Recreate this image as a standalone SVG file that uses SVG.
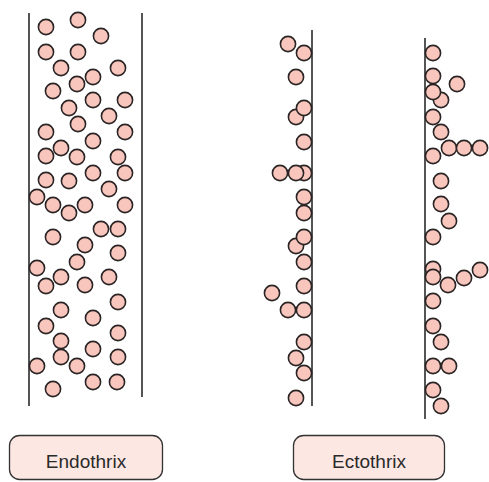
<svg xmlns="http://www.w3.org/2000/svg" width="489" height="482" viewBox="0 0 489 482">
<style>
.c{fill:#f8c6bd;stroke:#2b2424;stroke-width:1.6}
.hair{stroke:#2a2a2a;stroke-width:1.6;fill:none}
.box{fill:#fde7e3;stroke:#333;stroke-width:1.3}
.lbl{font-family:"Liberation Sans",Arial,sans-serif;font-size:19px;fill:#2a2a2a;text-anchor:middle}
</style>
<rect width="489" height="482" fill="#fff"/>
<g id="connectors">
<line class="hair" x1="29" y1="13" x2="29" y2="406"/>
<line class="hair" x1="142" y1="13" x2="142" y2="397"/>
<line class="hair" x1="312" y1="30" x2="312" y2="406"/>
<line class="hair" x1="425" y1="38" x2="425" y2="419" style="stroke:#555;stroke-width:2"/>
</g>
<g id="endothrix-spores">
<circle class="c" cx="78" cy="20" r="7.6"/>
<circle class="c" cx="46" cy="27" r="7.6"/>
<circle class="c" cx="101" cy="36" r="7.6"/>
<circle class="c" cx="46" cy="52" r="7.6"/>
<circle class="c" cx="78" cy="52" r="7.6"/>
<circle class="c" cx="61" cy="68" r="7.6"/>
<circle class="c" cx="118" cy="68" r="7.6"/>
<circle class="c" cx="93" cy="77" r="7.6"/>
<circle class="c" cx="77" cy="84" r="7.6"/>
<circle class="c" cx="53" cy="91" r="7.6"/>
<circle class="c" cx="93" cy="100" r="7.6"/>
<circle class="c" cx="125" cy="100" r="7.6"/>
<circle class="c" cx="69" cy="108" r="7.6"/>
<circle class="c" cx="109" cy="116" r="7.6"/>
<circle class="c" cx="78" cy="124" r="7.6"/>
<circle class="c" cx="46" cy="132" r="7.6"/>
<circle class="c" cx="125" cy="132" r="7.6"/>
<circle class="c" cx="93" cy="141" r="7.6"/>
<circle class="c" cx="61" cy="148" r="7.6"/>
<circle class="c" cx="46" cy="156" r="7.6"/>
<circle class="c" cx="77" cy="157" r="7.6"/>
<circle class="c" cx="118" cy="157" r="7.6"/>
<circle class="c" cx="93" cy="173" r="7.6"/>
<circle class="c" cx="125" cy="173" r="7.6"/>
<circle class="c" cx="46" cy="180" r="7.6"/>
<circle class="c" cx="69" cy="181" r="7.6"/>
<circle class="c" cx="109" cy="189" r="7.6"/>
<circle class="c" cx="37" cy="197" r="7.6"/>
<circle class="c" cx="53" cy="205" r="7.6"/>
<circle class="c" cx="85" cy="205" r="7.6"/>
<circle class="c" cx="125" cy="205" r="7.6"/>
<circle class="c" cx="69" cy="213" r="7.6"/>
<circle class="c" cx="101" cy="229" r="7.6"/>
<circle class="c" cx="118" cy="229" r="7.6"/>
<circle class="c" cx="53" cy="237" r="7.6"/>
<circle class="c" cx="85" cy="245" r="7.6"/>
<circle class="c" cx="118" cy="253" r="7.6"/>
<circle class="c" cx="77" cy="262" r="7.6"/>
<circle class="c" cx="37" cy="268" r="7.6"/>
<circle class="c" cx="61" cy="277" r="7.6"/>
<circle class="c" cx="109" cy="277" r="7.6"/>
<circle class="c" cx="46" cy="286" r="7.6"/>
<circle class="c" cx="85" cy="285" r="7.6"/>
<circle class="c" cx="118" cy="302" r="7.6"/>
<circle class="c" cx="61" cy="310" r="7.6"/>
<circle class="c" cx="93" cy="318" r="7.6"/>
<circle class="c" cx="46" cy="326" r="7.6"/>
<circle class="c" cx="118" cy="333" r="7.6"/>
<circle class="c" cx="61" cy="341" r="7.6"/>
<circle class="c" cx="93" cy="349" r="7.6"/>
<circle class="c" cx="61" cy="357" r="7.6"/>
<circle class="c" cx="118" cy="357" r="7.6"/>
<circle class="c" cx="37" cy="366" r="7.6"/>
<circle class="c" cx="77" cy="366" r="7.6"/>
<circle class="c" cx="93" cy="382" r="7.6"/>
<circle class="c" cx="117" cy="382" r="7.6"/>
<circle class="c" cx="53" cy="389" r="7.6"/>
</g>
<g id="ectothrix-left-spores">
<circle class="c" cx="288" cy="44" r="7.6"/>
<circle class="c" cx="304" cy="53" r="7.6"/>
<circle class="c" cx="296" cy="77" r="7.6"/>
<circle class="c" cx="296" cy="117" r="7.6"/>
<circle class="c" cx="304" cy="108" r="7.6"/>
<circle class="c" cx="304" cy="142" r="7.6"/>
<circle class="c" cx="280" cy="173" r="7.6"/>
<circle class="c" cx="304" cy="173" r="7.6"/>
<circle class="c" cx="296" cy="173" r="7.6"/>
<circle class="c" cx="304" cy="197" r="7.6"/>
<circle class="c" cx="304" cy="213" r="7.6"/>
<circle class="c" cx="296" cy="246" r="7.6"/>
<circle class="c" cx="304" cy="237" r="7.6"/>
<circle class="c" cx="304" cy="262" r="7.6"/>
<circle class="c" cx="304" cy="286" r="7.6"/>
<circle class="c" cx="272" cy="293" r="7.6"/>
<circle class="c" cx="288" cy="310" r="7.6"/>
<circle class="c" cx="304" cy="310" r="7.6"/>
<circle class="c" cx="304" cy="342" r="7.6"/>
<circle class="c" cx="296" cy="358" r="7.6"/>
<circle class="c" cx="304" cy="373" r="7.6"/>
<circle class="c" cx="296" cy="398" r="7.6"/>
</g>
<g id="ectothrix-right-spores">
<circle class="c" cx="433" cy="53" r="7.6"/>
<circle class="c" cx="433" cy="76" r="7.6"/>
<circle class="c" cx="457" cy="84" r="7.6"/>
<circle class="c" cx="441" cy="100" r="7.6"/>
<circle class="c" cx="433" cy="92" r="7.6"/>
<circle class="c" cx="433" cy="117" r="7.6"/>
<circle class="c" cx="441" cy="132" r="7.6"/>
<circle class="c" cx="449" cy="148" r="7.6"/>
<circle class="c" cx="464" cy="148" r="7.6"/>
<circle class="c" cx="480" cy="148" r="7.6"/>
<circle class="c" cx="433" cy="156" r="7.6"/>
<circle class="c" cx="441" cy="181" r="7.6"/>
<circle class="c" cx="441" cy="204" r="7.6"/>
<circle class="c" cx="449" cy="221" r="7.6"/>
<circle class="c" cx="433" cy="237" r="7.6"/>
<circle class="c" cx="433" cy="269" r="7.6"/>
<circle class="c" cx="480" cy="270" r="7.6"/>
<circle class="c" cx="464" cy="278" r="7.6"/>
<circle class="c" cx="448" cy="285" r="7.6"/>
<circle class="c" cx="433" cy="277" r="7.6"/>
<circle class="c" cx="433" cy="301" r="7.6"/>
<circle class="c" cx="433" cy="326" r="7.6"/>
<circle class="c" cx="441" cy="342" r="7.6"/>
<circle class="c" cx="433" cy="366" r="7.6"/>
<circle class="c" cx="449" cy="366" r="7.6"/>
<circle class="c" cx="433" cy="390" r="7.6"/>
<circle class="c" cx="441" cy="406" r="7.6"/>
</g>
<g id="label-endothrix">
<rect class="box" x="9.5" y="435.5" width="153" height="44" rx="10"/>
<text class="lbl" x="86" y="468">Endothrix</text>
</g>
<g id="label-ectothrix">
<rect class="box" x="293.5" y="435.5" width="151" height="44" rx="10"/>
<text class="lbl" x="369" y="468">Ectothrix</text>
</g>
</svg>
